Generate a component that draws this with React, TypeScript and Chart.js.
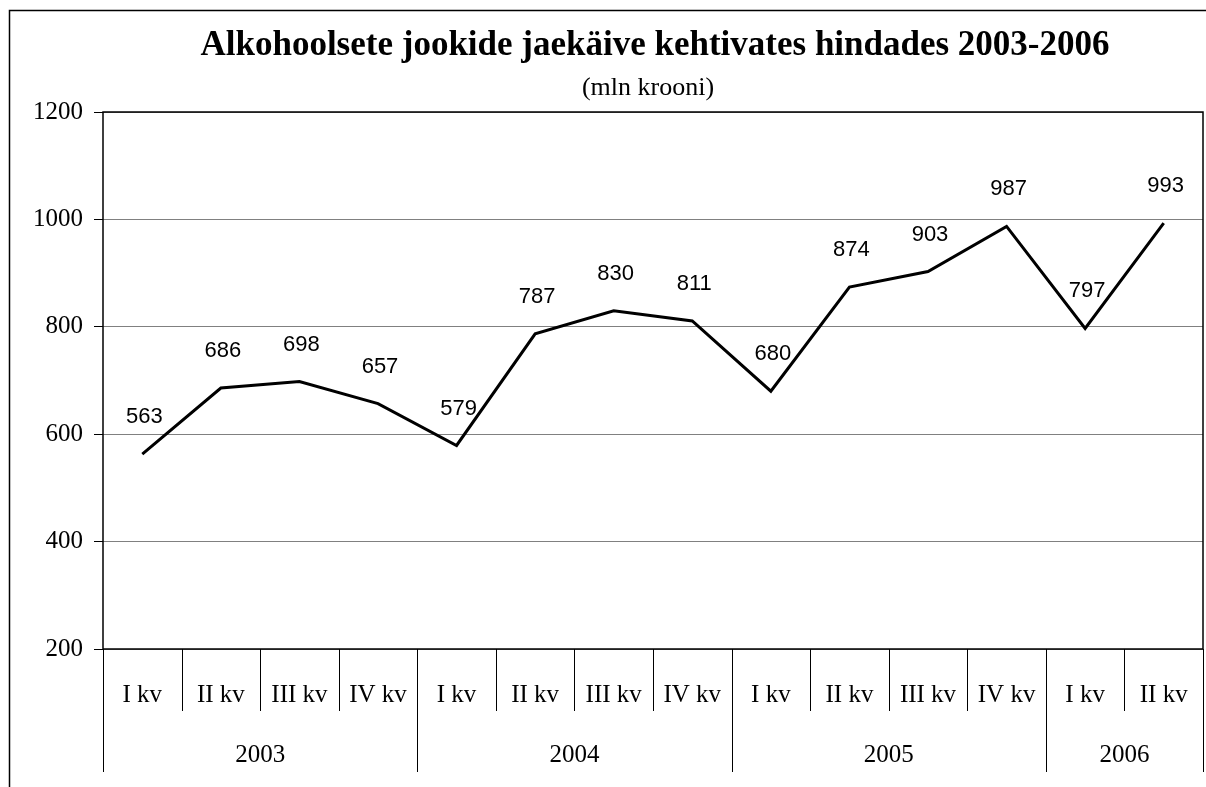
import React, { useEffect, useRef } from "react";
import { Chart, registerables } from "chart.js";

Chart.register(...registerables);

const quarterLabels = ["I kv", "II kv", "III kv", "IV kv", "I kv", "II kv", "III kv", "IV kv", "I kv", "II kv", "III kv", "IV kv", "I kv", "II kv"];
const yearLabels = ["2003", "2004", "2005", "2006"];
const yearSpans = [4, 4, 4, 2];
const values = [563, 686, 698, 657, 579, 787, 830, 811, 680, 874, 903, 987, 797, 993];
const yTicks = [200, 400, 600, 800, 1000, 1200];
const titleText = "Alkohoolsete jookide jaekäive kehtivates hindades 2003-2006";
const subtitleText = "(mln krooni)";

const SERIF = "'Liberation Serif', 'Times New Roman', serif";
const SANS = "'Liberation Sans', Arial, sans-serif";

const decorPlugin = {
  id: "decor",
  beforeDraw(chart: any) {
    const ctx = chart.ctx;
    ctx.save();
    ctx.fillStyle = "#fff";
    ctx.fillRect(0, 0, chart.width, chart.height);
    ctx.restore();
  },
  afterDraw(chart: any) {
    const ctx = chart.ctx;
    const area = chart.chartArea;
    const x = chart.scales.x;
    ctx.save();
    // outer frame
    ctx.strokeStyle = "#000";
    ctx.lineWidth = 1.5;
    ctx.beginPath();
    ctx.moveTo(9.5, chart.height);
    ctx.lineTo(9.5, 10.5);
    ctx.lineTo(chart.width, 10.5);
    ctx.stroke();

    // title
    ctx.fillStyle = "#000";
    ctx.textAlign = "center";
    ctx.textBaseline = "middle";
    ctx.font = `bold 35px ${SERIF}`;
    ctx.fillText(titleText, 655, 46);
    ctx.font = `26px ${SERIF}`;
    ctx.fillText(subtitleText, 648, 88);

    // plot border
    ctx.lineWidth = 1.5;
    ctx.strokeStyle = "#000";
    ctx.strokeRect(area.left, area.top, area.right - area.left, area.bottom - area.top);

    // category separators
    const n = quarterLabels.length;
    const step = (area.right - area.left) / n;
    const yearBounds = new Set<number>();
    let acc = 0;
    yearBounds.add(0);
    yearSpans.forEach((s) => {
      acc += s;
      yearBounds.add(acc);
    });
    ctx.lineWidth = 1;
    ctx.strokeStyle = "#000";
    for (let i = 0; i <= n; i++) {
      const px = Math.round(area.left + step * i) + 0.5;
      const bottom = yearBounds.has(i) ? 772 : 711;
      ctx.beginPath();
      ctx.moveTo(px, area.bottom);
      ctx.lineTo(px, bottom);
      ctx.stroke();
    }

    // quarter labels
    ctx.font = `25px ${SERIF}`;
    ctx.textAlign = "center";
    ctx.textBaseline = "middle";
    quarterLabels.forEach((lab, i) => {
      ctx.fillText(lab, x.getPixelForValue(i), 695);
    });
    // year labels
    acc = 0;
    yearLabels.forEach((lab, i) => {
      const start = acc;
      acc += yearSpans[i];
      const cx = area.left + step * ((start + acc) / 2);
      ctx.fillText(lab, cx, 755);
    });

    // data labels
    const meta = chart.getDatasetMeta(0);
    ctx.font = `22px ${SANS}`;
    meta.data.forEach((pt: any, i: number) => {
      ctx.fillText(String(values[i]), pt.x + 2, pt.y - 37);
    });
    ctx.restore();
  },
};

export default function App() {
  const ref = useRef<HTMLCanvasElement>(null);
  useEffect(() => {
    document.body.style.margin = "0";
    const chart = new Chart(ref.current!, {
      type: "line",
      data: {
        labels: quarterLabels,
        datasets: [
          {
            data: values,
            borderColor: "#000",
            borderWidth: 3,
            pointRadius: 0,
            tension: 0,
            fill: false,
          },
        ],
      },
      options: {
        animation: false,
        responsive: false,
        layout: { padding: { top: 112, right: 3, bottom: 138, left: 0 } },
        plugins: { legend: { display: false }, tooltip: { enabled: false }, title: { display: false } },
        scales: {
          x: {
            offset: true,
            grid: { display: false, drawTicks: false },
            border: { display: false },
            ticks: { display: false },
          },
          y: {
            min: yTicks[0],
            max: yTicks[yTicks.length - 1],
            afterFit: (scale: any) => {
              scale.width = 103;
            },
            afterBuildTicks: (scale: any) => {
              scale.ticks = yTicks.map((v) => ({ value: v }));
            },
            ticks: {
              color: "#000",
              padding: 11,
              font: { family: SERIF, size: 25 },
              callback: (v: any) => String(v),
            },
            grid: { color: "#808080", lineWidth: 1, tickLength: 9, tickColor: "#000" },
            border: { display: false },
          },
        },
      },
      plugins: [decorPlugin],
    });
    return () => chart.destroy();
  }, []);
  return (
    <div style={{ width: 1206, height: 787 }}>
      <canvas ref={ref} width={1206} height={787} style={{ display: "block" }} />
    </div>
  );
}
